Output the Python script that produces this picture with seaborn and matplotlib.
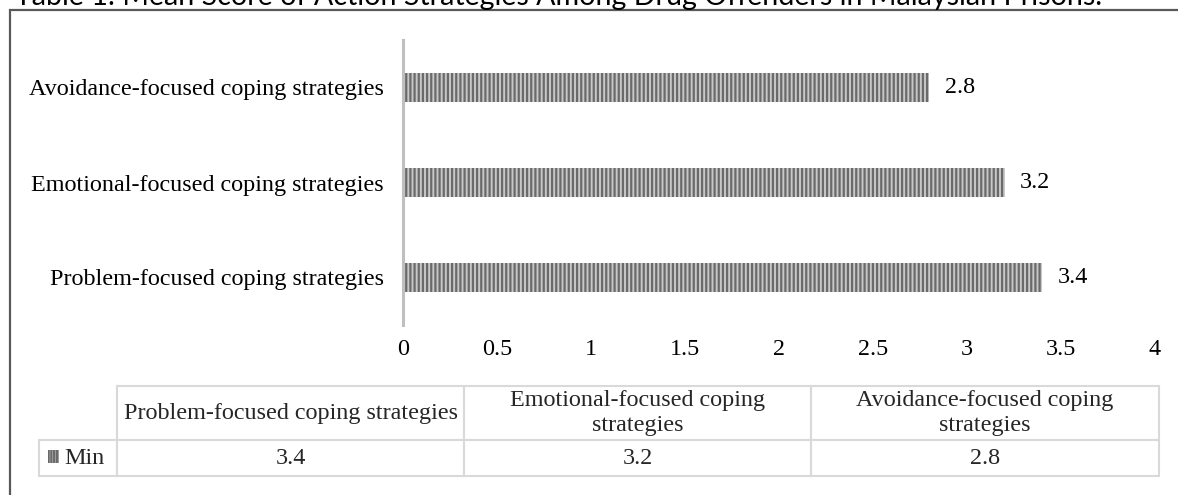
import matplotlib
matplotlib.use("Agg")
import matplotlib.pyplot as plt
import matplotlib.patches as mpatches
from matplotlib.ticker import FuncFormatter
import pandas as pd
import seaborn as sns

# data
categories = ["Problem-focused coping strategies",
              "Emotional-focused coping strategies",
              "Avoidance-focused coping strategies"]
header_labels = ["Problem-focused coping strategies",
                 "Emotional-focused coping\nstrategies",
                 "Avoidance-focused coping\nstrategies"]
min_scores = [3.4, 3.2, 2.8]
series_name = "Min"
x_ticks = [0, 0.5, 1, 1.5, 2, 2.5, 3, 3.5, 4]
title = "Table 1: Mean Score of Action Strategies Among Drug Offenders in Malaysian Prisons."

df = pd.DataFrame({"Strategy": categories, "Score": min_scores})

sns.set_theme(style="white")
plt.rcParams["font.family"] = ["Liberation Serif", "DejaVu Serif"]
plt.rcParams["hatch.linewidth"] = 1.6

FS = 17.4
W, H = 1178, 495
fig = plt.figure(figsize=(W / 100, H / 100), dpi=100)
ax = fig.add_axes([403 / W, 1 - 325 / H, 752 / W, 285 / H])

# Excel draws the first category at the bottom
order = categories[::-1]
sns.barplot(data=df, y="Strategy", x="Score", order=order, orient="h",
            color="#c8c8c8", width=0.31, ax=ax, saturation=1)
for bar in ax.patches:
    bar.set_hatch("||||")
    bar.set_edgecolor("#6a6a6a")
    bar.set_linewidth(0)

ax.bar_label(ax.containers[0], fmt="%.1f", padding=11, fontsize=FS, color="black")

ax.set_xlim(0, 4)
ax.set_ylim(2.5, -0.5)
ax.set_xticks(x_ticks)
ax.xaxis.set_major_formatter(FuncFormatter(lambda v, p: "%g" % v))
ax.tick_params(axis="x", length=0, pad=10, labelsize=FS, colors="black")
ax.tick_params(axis="y", length=0, pad=14, labelsize=FS, colors="black")
ax.set_xlabel("")
ax.set_ylabel("")
for s in ["top", "right", "bottom"]:
    ax.spines[s].set_visible(False)
ax.spines["left"].set_color("#bfbfbf")
ax.spines["left"].set_linewidth(2.2)

# data table under the chart: first column holds the series name
cell_text = [[""] + header_labels,
             [series_name] + ["%.1f" % v for v in min_scores]]
tbl = ax.table(cellText=cell_text, cellLoc="center",
               bbox=[(39 - 403) / 752, (325 - 476) / 285,
                     (1159 - 39) / 752, (476 - 386) / 285])
tbl.auto_set_font_size(False)
col_w = [78, 347, 347, 348]
for (r, c), cell in tbl.get_celld().items():
    cell.set_edgecolor("#d9d9d9")
    cell.set_linewidth(1.5)
    cell.get_text().set_fontsize(FS)
    cell.set_height(54 if r == 0 else 36)
    cell.set_width(col_w[c])
    if c == 0:
        cell.PAD = 0.32
        cell.get_text().set_horizontalalignment("left")
    if r == 0 and c == 0:
        cell.visible_edges = ""

# legend key inside the row header
key = mpatches.Rectangle((48 / W, 1 - 463 / H), 11 / W, 13 / H,
                         transform=fig.transFigure, facecolor="#c8c8c8",
                         edgecolor="#6a6a6a", hatch="||||||", linewidth=0)
fig.patches.append(key)

# outer frame and the clipped caption above it
frame = mpatches.Rectangle((10 / W, -0.2), 1.2, 1.2 - 10 / H,
                           transform=fig.transFigure, fill=False,
                           edgecolor="#595959", linewidth=1.6)
fig.patches.append(frame)
fig.text(15 / W, 1 - 5 / H, title, ha="left", va="baseline",
         fontsize=20.6, family=["Lato", "DejaVu Sans"], color="black")

fig.savefig("out.png", dpi=100)
